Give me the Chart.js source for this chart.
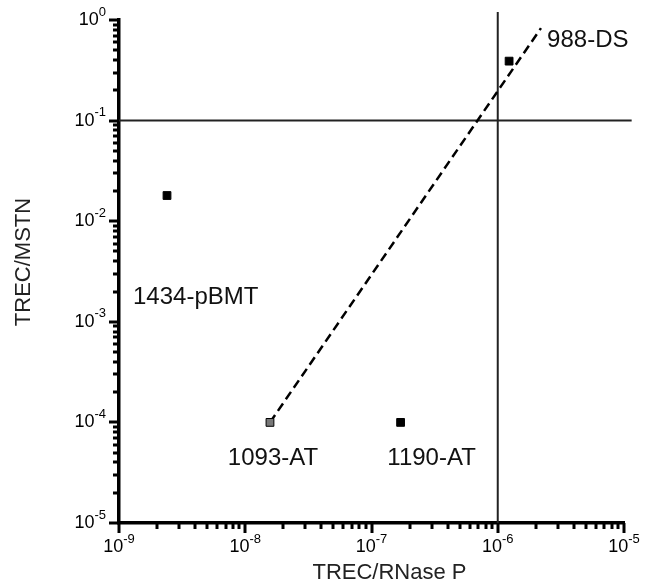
<!DOCTYPE html>
<html>
<head>
<meta charset="utf-8">
<script src="https://cdn.jsdelivr.net/npm/chart.js@4.4.0/dist/chart.umd.min.js"></script>
<style>
  html, body { margin: 0; padding: 0; background: #fff; }
</style>
</head>
<body>
<canvas id="chart" width="645" height="587"></canvas>
<script>
// samples
const sampleNames = ['1434-pBMT', '1093-AT', '1190-AT', '988-DS'];
const trecRnase = [2.4e-9, 1.57e-8, 1.7e-7, 1.23e-6];
const trecMstn = [0.018, 1e-4, 1e-4, 0.39];
const pointFill = ['#000', '#777', '#000', '#000'];

// dashed fit line end points
const fitX = [1.57e-8, 2.2e-6];
const fitY = [1e-4, 0.83];

// cut-off lines
const cutoffX = 1e-6;
const cutoffY = 0.1;

// decades shown on the axes
const xExps = [-9, -8, -7, -6, -5];
const yExps = [-5, -4, -3, -2, -1, 0];

// label placement relative to each point (px)
const labelDx = [-34, 3, 31, 38];
const labelDy = [102, 36, 36, -21];
const labelAlign = ['left', 'center', 'center', 'left'];

const FONT = "'Liberation Sans', Arial, sans-serif";

const axisDecor = {
    id: 'axisDecor',
    afterDraw(chart) {
        const ctx = chart.ctx;
        const xs = chart.scales.x, ys = chart.scales.y;
        const area = chart.chartArea;
        ctx.save();
        ctx.strokeStyle = '#000';
        ctx.fillStyle = '#000';
        ctx.lineWidth = 3;

        // tick marks, 1..9 per decade
        xExps.forEach(function(e, i) {
            const last = i === xExps.length - 1;
            for (let m = 1; m <= (last ? 1 : 9); m++) {
                const px = Math.round(xs.getPixelForValue(m * Math.pow(10, e)));
                const len = m === 1 ? 10 : 6;
                ctx.beginPath();
                ctx.moveTo(px, area.bottom);
                ctx.lineTo(px, area.bottom + len);
                ctx.stroke();
            }
        });
        yExps.forEach(function(e, i) {
            const last = i === yExps.length - 1;
            for (let m = 1; m <= (last ? 1 : 9); m++) {
                const py = Math.round(ys.getPixelForValue(m * Math.pow(10, e)));
                const len = m === 1 ? 10 : 6;
                ctx.beginPath();
                ctx.moveTo(area.left, py);
                ctx.lineTo(area.left - len, py);
                ctx.stroke();
            }
        });

        // tick labels 10^n
        ctx.textBaseline = 'middle';
        ctx.textAlign = 'left';
        function power(e, x, y, anchor) {
            ctx.font = '18px ' + FONT;
            const wBase = ctx.measureText('10').width;
            ctx.font = '13px ' + FONT;
            const sup = String(e);
            const wSup = ctx.measureText(sup).width;
            const x0 = anchor === 'center' ? x - (wBase + wSup) / 2 : x - wBase - wSup;
            ctx.font = '18px ' + FONT;
            ctx.fillText('10', x0, y);
            ctx.font = '13px ' + FONT;
            ctx.fillText(sup, x0 + wBase, y - 8);
        }
        xExps.forEach(function(e) {
            power(e, xs.getPixelForValue(Math.pow(10, e)), area.bottom + 24, 'center');
        });
        yExps.forEach(function(e) {
            power(e, area.left - 13, ys.getPixelForValue(Math.pow(10, e)), 'right');
        });

        // axis titles
        ctx.font = '22px ' + FONT;
        ctx.fillStyle = '#222';
        ctx.textAlign = 'center';
        ctx.fillText('TREC/RNase P', (area.left + area.right) / 2 + 18, 573);
        ctx.save();
        ctx.translate(24, 262);
        ctx.rotate(-Math.PI / 2);
        ctx.fillText('TREC/MSTN', 0, 0);
        ctx.restore();

        // sample labels
        ctx.font = '24px ' + FONT;
        ctx.fillStyle = '#111';
        sampleNames.forEach(function(name, i) {
            const px = xs.getPixelForValue(trecRnase[i]);
            const py = ys.getPixelForValue(trecMstn[i]);
            ctx.textAlign = labelAlign[i];
            ctx.fillText(name, px + labelDx[i], py + labelDy[i]);
        });
        ctx.restore();
    }
};

new Chart(document.getElementById('chart'), {
    type: 'scatter',
    data: {
        datasets: [{
            label: 'samples',
            data: trecRnase.map(function(x, i) { return { x: x, y: trecMstn[i] }; }),
            pointStyle: 'rect',
            pointRadius: 5.5,
            backgroundColor: pointFill,
            borderColor: '#000',
            borderWidth: 1,
            order: 0
        }, {
            type: 'line',
            label: 'fit',
            data: fitX.map(function(x, i) { return { x: x, y: fitY[i] }; }),
            borderColor: '#000',
            borderWidth: 2.5,
            borderDash: [9, 5],
            pointRadius: 0,
            fill: false,
            order: 1
        }, {
            type: 'line',
            label: 'cutoff y',
            data: [{ x: 1e-9, y: cutoffY }, { x: 1.15e-5, y: cutoffY }],
            borderColor: '#222',
            borderWidth: 2,
            pointRadius: 0,
            clip: false,
            order: 2
        }, {
            type: 'line',
            label: 'cutoff x',
            data: [{ x: cutoffX, y: 1e-5 }, { x: cutoffX, y: 1.2 }],
            borderColor: '#222',
            borderWidth: 2,
            pointRadius: 0,
            clip: false,
            order: 2
        }]
    },
    options: {
        responsive: false,
        animation: false,
        layout: {
            padding: { left: 119, right: 21, top: 20, bottom: 64 }
        },
        plugins: {
            legend: { display: false },
            tooltip: { enabled: false }
        },
        scales: {
            x: {
                type: 'logarithmic',
                min: 1e-9,
                max: 1e-5,
                ticks: { display: false },
                grid: { display: false, drawTicks: false },
                border: { display: true, color: '#000', width: 3.5 }
            },
            y: {
                type: 'logarithmic',
                min: 1e-5,
                max: 1,
                ticks: { display: false },
                grid: { display: false, drawTicks: false },
                border: { display: true, color: '#000', width: 3.5 }
            }
        }
    },
    plugins: [axisDecor]
});
</script>
</body>
</html>
